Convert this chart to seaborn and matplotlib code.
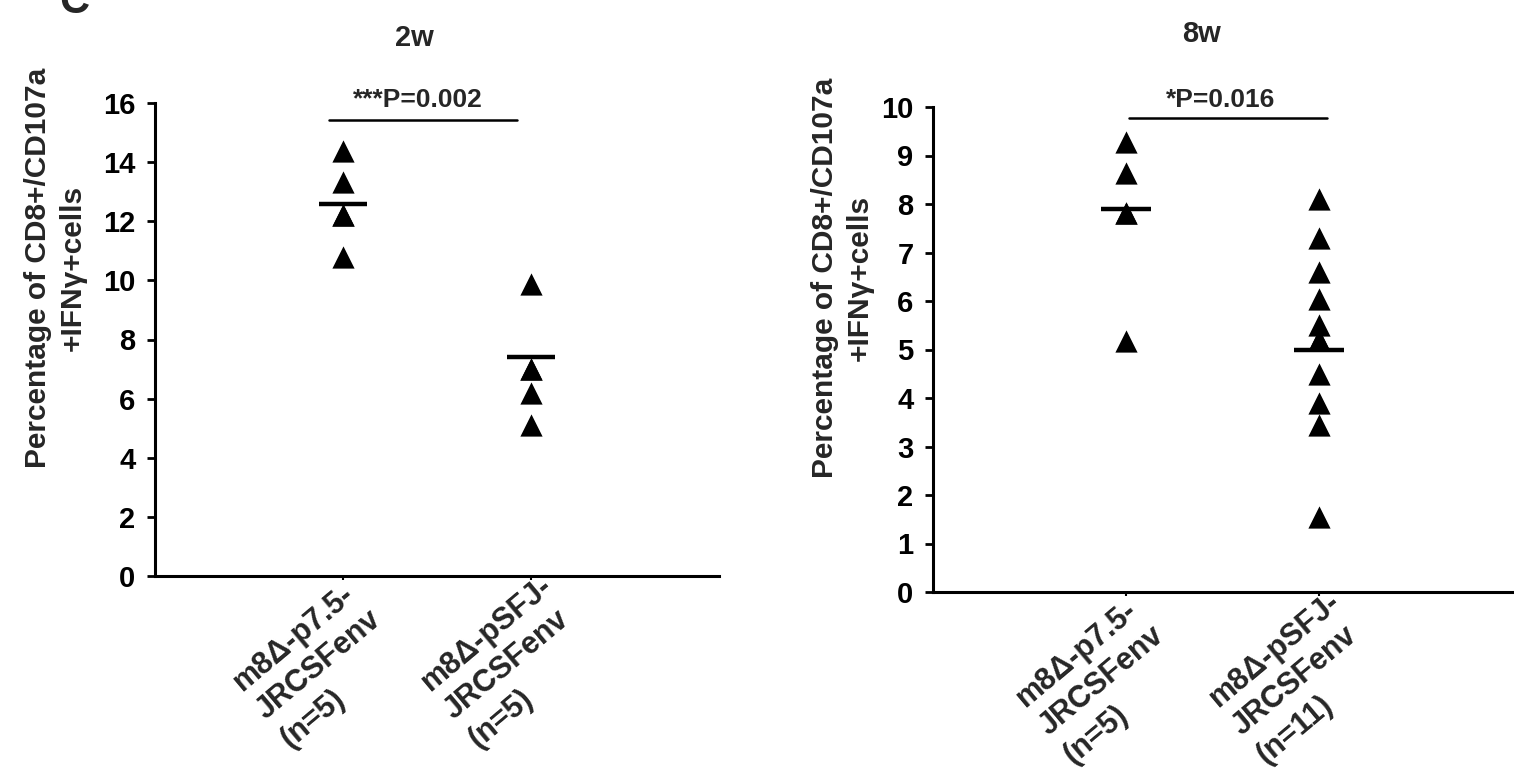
import matplotlib
matplotlib.use("Agg")
import numpy as np
import matplotlib.pyplot as plt
import pandas as pd
import seaborn as sns
from matplotlib.transforms import ScaledTranslation

# ---- data -------------------------------------------------------------
panel_titles = ["2w", "8w"]
group_names = ["m8\u0394-p7.5-\nJRCSFenv", "m8\u0394-pSFJ-\nJRCSFenv"]
week2_counts = ["(n=5)", "(n=5)"]
week8_counts = ["(n=5)", "(n=11)"]

week2_p75 = [14.37, 13.34, 12.22, 12.22, 10.79]
week2_psfj = [9.87, 7.0, 7.0, 6.18, 5.12]
week8_p75 = [9.27, 8.64, 7.81, 7.81, 5.17]
week8_psfj = [8.1, 7.3, 6.6, 6.05, 5.5, 5.2, 5.2, 4.5, 3.9, 3.45, 1.55]

week2_centres = [12.6, 7.42]
week8_centres = [7.9, 5.0]

p_texts = ["***P=0.002", "*P=0.016"]
week2_yticks = list(range(0, 17, 2))
week8_yticks = list(range(0, 11, 1))

y_label = "Percentage of CD8+/CD107a\n+IFN\u03b3+cells"

# ---- style ------------------------------------------------------------
sns.set_style("ticks")
plt.rcParams["font.family"] = ["Liberation Sans", "DejaVu Sans"]
plt.rcParams["font.weight"] = "bold"

W, H = 1514, 771
DPI = 100
fig = plt.figure(figsize=(W / DPI, H / DPI), dpi=DPI)


def fx(px):
    return px / W


def fy(py):
    return 1 - py / H


def category_label(ax, xpos, name, count):
    """Three-line slanted, left-aligned category label under a tick."""
    angle = 40
    theta = np.deg2rad(angle)
    down = np.array([np.sin(theta), -np.cos(theta)])
    pitch = 37.0
    start = np.array([-101.0, -116.0])
    lines = name.split("\n") + [count]
    base = ax.get_xaxis_transform()
    for j, text in enumerate(lines):
        off = start + j * pitch * down
        tr = base + ScaledTranslation(off[0] / DPI, off[1] / DPI,
                                      fig.dpi_scale_trans)
        ax.text(xpos, 0, text, transform=tr, rotation=angle,
                rotation_mode="anchor", ha="left", va="baseline",
                fontsize=22, fontweight="bold", clip_on=False)


def draw_panel(ax, counts, vals_a, vals_b, centres, yticks, title, title_y,
               ptext, sig_x, sig_y, text_x, text_y, title_x):
    order = ["a", "b"]
    df = pd.DataFrame({
        "group": ["a"] * len(vals_a) + ["b"] * len(vals_b),
        "value": vals_a + vals_b,
    })
    sns.stripplot(data=df, x="group", y="value", order=order, jitter=False,
                  marker="^", size=16, color="black", linewidth=0, ax=ax,
                  zorder=3)
    # group centre bars
    for i, c in enumerate(centres):
        ax.hlines(c, i - 0.13, i + 0.13, color="black", lw=3.2, zorder=4)

    ax.set_xlim(-1, 2)
    ax.set_ylim(yticks[0], yticks[-1])
    ax.set_yticks(yticks)
    ax.set_xticks([0, 1])
    ax.set_xticklabels([])
    ax.set_xlabel("")
    ax.set_ylabel("")
    for side in ("top", "right"):
        ax.spines[side].set_visible(False)
    for side in ("left", "bottom"):
        ax.spines[side].set_linewidth(2.2)
        ax.spines[side].set_color("black")
    ax.tick_params(axis="y", direction="out", length=6, width=2, pad=8,
                   labelsize=21, colors="black")
    ax.tick_params(axis="x", direction="out", length=3, width=1.5,
                   colors="black")
    for lab in ax.get_yticklabels():
        lab.set_fontweight("bold")

    for i, (name, count) in enumerate(zip(group_names, counts)):
        category_label(ax, i, name, count)

    # significance bracket
    ax.plot(sig_x, [sig_y, sig_y], color="black", lw=1.8, clip_on=False)
    ax.text(text_x, text_y, ptext, ha="center", va="center", fontsize=19,
            fontweight="bold", clip_on=False)
    ax.text(title_x, title_y, title, ha="center", va="center", fontsize=21,
            fontweight="bold", clip_on=False)


ax1 = fig.add_axes([fx(155), fy(576), fx(719 - 155), (576 - 103) / H])
ax2 = fig.add_axes([fx(933), fy(592), fx(1512 - 933), (592 - 107) / H])

draw_panel(ax1, week2_counts, week2_p75, week2_psfj, week2_centres,
           week2_yticks, panel_titles[0], 18.2, p_texts[0],
           [-0.075, 0.925], 15.43, 0.40, 16.1, 0.38)
draw_panel(ax2, week8_counts, week8_p75, week8_psfj, week8_centres,
           week8_yticks, panel_titles[1], 11.5, p_texts[1],
           [0.014, 1.04], 9.77, 0.49, 10.14, 0.39)

# axis titles
fig.text(fx(55), fy(268), y_label, rotation=90, ha="center", va="center",
         multialignment="center", fontsize=21.5, fontweight="bold",
         linespacing=1.3)
fig.text(fx(842), fy(278), y_label, rotation=90, ha="center", va="center",
         multialignment="center", fontsize=21.5, fontweight="bold",
         linespacing=1.3)

# panel letter
fig.text(fx(74), fy(13), "C", ha="center", va="baseline", fontsize=30,
         fontweight="bold")

fig.savefig("out.png", dpi=DPI, facecolor="white")
